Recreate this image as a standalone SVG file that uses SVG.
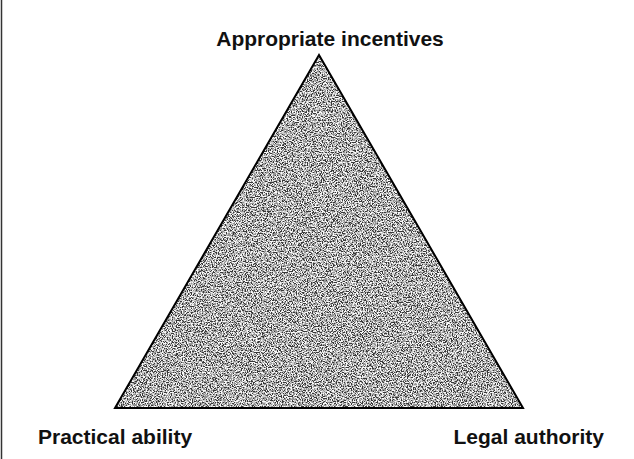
<svg xmlns="http://www.w3.org/2000/svg" width="634" height="459" viewBox="0 0 634 459">
  <defs>
    <style>
      .label { font-family: "Liberation Sans", Arial, Helvetica, sans-serif; font-weight: bold; font-size: 21px; fill: #111; }
      .edge { fill: none; stroke: #000; stroke-width: 2; stroke-linejoin: miter; }
      .frame { stroke: #333; stroke-width: 1.5; }
    </style>
    <!-- dithered grey halftone fill -->
    <filter id="grain" x="0" y="0" width="1" height="1">
      <feTurbulence type="fractalNoise" baseFrequency="0.8" numOctaves="2" seed="7" result="n"/>
      <feColorMatrix in="n" type="matrix" values="2.6 0 0 0 -0.8  2.6 0 0 0 -0.8  2.6 0 0 0 -0.8  0 0 0 0 1" result="g"/>
      <feComponentTransfer in="g" result="d">
        <feFuncR type="discrete" tableValues="0.04 0.3 0.62 0.95"/>
        <feFuncG type="discrete" tableValues="0.04 0.3 0.62 0.95"/>
        <feFuncB type="discrete" tableValues="0.04 0.3 0.62 0.95"/>
      </feComponentTransfer>
      <feComposite in="d" in2="SourceGraphic" operator="in"/>
    </filter>
  </defs>
  <rect width="634" height="459" fill="#fff"/>
  <!-- page margin rule -->
  <line class="frame" x1="1.5" y1="0" x2="1.5" y2="459"/>

  <g id="triangle">
    <polygon points="319,55 115,408 523,408" fill="#999" filter="url(#grain)"/>
    <polygon class="edge" points="319,55 115,408 523,408"/>
  </g>

  <g id="node-incentives">
    <text class="label" x="330" y="46" text-anchor="middle">Appropriate incentives</text>
  </g>
  <g id="node-ability">
    <text class="label" x="38" y="444">Practical ability</text>
  </g>
  <g id="node-authority">
    <text class="label" x="604" y="444" text-anchor="end">Legal authority</text>
  </g>
</svg>
